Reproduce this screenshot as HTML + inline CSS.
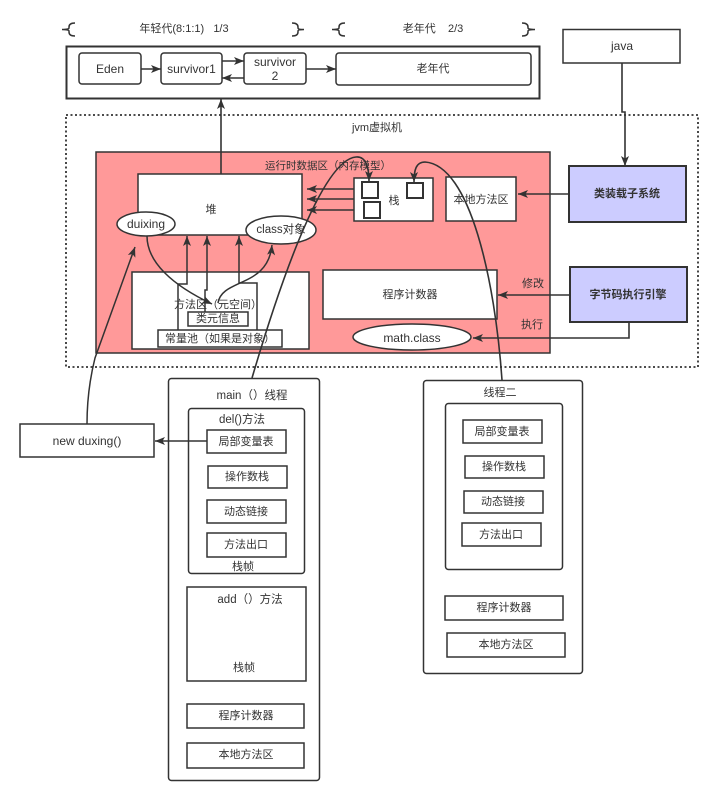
<!DOCTYPE html>
<html><head><meta charset="utf-8"><style>
html,body{margin:0;padding:0;background:#fff;}
svg{display:block;}
text{font-family:"Liberation Sans","Noto Sans CJK SC",sans-serif;fill:#333;text-anchor:middle;dominant-baseline:central;font-size:11px;}
.l{font-size:12px;}
.b{font-weight:bold;}
</style></head><body>
<svg width="719" height="800" viewBox="0 0 719 800" xmlns="http://www.w3.org/2000/svg">
<defs>
<marker id="a" viewBox="0 0 10 10" refX="10" refY="5" markerWidth="10" markerHeight="10" markerUnits="userSpaceOnUse" orient="auto">
<path d="M0,1 L10,5 L0,9 L2.5,5 Z" fill="#333"/>
</marker>
</defs>
<rect width="719" height="800" fill="#fff"/>

<!-- braces -->
<g fill="none" stroke="#333" stroke-width="1.5">
<path d="M75,23 Q69,23 69,27 V28 Q69,29.5 62,29.5 Q69,29.5 69,31 V32 Q69,36 75,36"/>
<path d="M292,23 Q298,23 298,27 V28 Q298,29.5 304,29.5 Q298,29.5 298,31 V32 Q298,36 292,36"/>
<path d="M345,23 Q339,23 339,27 V28 Q339,29.5 332,29.5 Q339,29.5 339,31 V32 Q339,36 345,36"/>
<path d="M522,23 Q528,23 528,27 V28 Q528,29.5 535,29.5 Q528,29.5 528,31 V32 Q528,36 522,36"/>
</g>
<text x="184" y="29">年轻代(8:1:1)&#160;&#160;&#160;1/3</text>
<text x="433" y="29">老年代&#160;&#160;&#160;&#160;2/3</text>

<!-- generation box -->
<rect x="66.5" y="46.5" width="473" height="52" fill="#fff" stroke="#333" stroke-width="2"/>
<g fill="#fff" stroke="#333" stroke-width="1.5">
<rect x="79" y="53" width="62" height="31" rx="3"/>
<rect x="161" y="53" width="61" height="31" rx="3"/>
<rect x="244" y="53" width="62" height="31" rx="3"/>
<rect x="336" y="53" width="195" height="32" rx="3"/>
</g>
<text class="l" x="110" y="69">Eden</text>
<text class="l" x="191.5" y="69">survivor1</text>
<text class="l" x="275" y="62">survivor</text>
<text class="l" x="275" y="76">2</text>
<text x="433" y="69">老年代</text>
<g stroke="#333" stroke-width="1.6" fill="none" marker-end="url(#a)">
<path d="M141,69 H161"/>
<path d="M222,61 H244"/>
<path d="M244,78 H222"/>
<path d="M306,69 H336"/>
</g>

<!-- java -->
<rect x="563" y="29.5" width="117" height="33.5" fill="#fff" stroke="#333" stroke-width="1.5"/>
<text class="l" x="622" y="46">java</text>
<path d="M622,63 V112 H625 V166" stroke="#333" stroke-width="1.6" fill="none" marker-end="url(#a)"/>

<!-- jvm dotted -->
<rect x="66" y="115" width="632" height="252" fill="none" stroke="#333" stroke-width="1.8" stroke-dasharray="2 2.5"/>
<text x="377" y="128">jvm虚拟机</text>

<!-- runtime area -->
<rect x="96" y="152" width="454" height="201" fill="#FF9999" stroke="#333" stroke-width="1.5"/>
<text x="328" y="166" style="font-size:10.5px">运行时数据区（内存模型）</text>

<!-- heap -->
<rect x="138" y="174" width="164" height="61" fill="#fff" stroke="#333" stroke-width="1.5"/>
<text x="211" y="210">堆</text>
<path d="M221,174 V99" stroke="#333" stroke-width="1.6" fill="none" marker-end="url(#a)"/>

<!-- method area -->
<rect x="132" y="272" width="177" height="77" fill="#fff" stroke="#333" stroke-width="1.5"/>
<g stroke="#333" stroke-width="1.5" fill="none" marker-end="url(#a)">
<path d="M178,330 V284 H187 V236"/>
<path d="M205,312 V290 H207 V236"/>
<path d="M257,330 V283 H239 V236"/>
</g>
<text x="218" y="305">方法区（元空间）</text>
<rect x="188" y="312" width="60" height="14" fill="#fff" stroke="#333" stroke-width="1.5"/>
<text x="218" y="319">类元信息</text>
<rect x="158" y="330" width="124" height="17" fill="#fff" stroke="#333" stroke-width="1.5"/>
<text x="220" y="339">常量池（如果是对象）</text>

<!-- ellipses -->
<ellipse cx="146" cy="224" rx="29" ry="12" fill="#fff" stroke="#333" stroke-width="1.5"/>
<text class="l" x="146" y="224">duixing</text>
<ellipse cx="281" cy="230" rx="35" ry="14" fill="#fff" stroke="#333" stroke-width="1.5"/>
<text x="281" y="230" style="font-size:11.5px">class对象</text>

<!-- curves inside -->
<g stroke="#333" stroke-width="1.5" fill="none" marker-end="url(#a)">
<path d="M147,236 C147,262 172,285 212,304"/>
<path d="M218,303 C222,278 268,288 272,245"/>
<path d="M87,424 C87,400 90,378 95,358 L135,247"/>
</g>

<!-- stack -->
<rect x="354" y="178" width="79" height="43" fill="#fff" stroke="#333" stroke-width="1.5"/>
<text x="394" y="201">栈</text>
<g fill="#fff" stroke="#333" stroke-width="2">
<rect x="362" y="182" width="16" height="16"/>
<rect x="364" y="202" width="16" height="16"/>
<rect x="407" y="183" width="16" height="15"/>
</g>
<g stroke="#333" stroke-width="1.5" fill="none" marker-end="url(#a)">
<path d="M354,189 H307"/>
<path d="M354,199 H307"/>
<path d="M354,210 H307"/>
</g>

<!-- local method area -->
<rect x="446" y="177" width="70" height="44" fill="#fff" stroke="#333" stroke-width="1.5"/>
<text x="481" y="200">本地方法区</text>

<!-- class loader -->
<rect x="569" y="166" width="117" height="56" fill="#CCCCFF" stroke="#333" stroke-width="2"/>
<text class="b" x="627" y="194">类装载子系统</text>
<path d="M569,194 H518" stroke="#333" stroke-width="1.6" fill="none" marker-end="url(#a)"/>

<!-- pc -->
<rect x="323" y="270" width="174" height="49" fill="#fff" stroke="#333" stroke-width="1.5"/>
<text x="410" y="295">程序计数器</text>

<!-- engine -->
<rect x="570" y="267" width="117" height="55" fill="#CCCCFF" stroke="#333" stroke-width="2"/>
<text class="b" x="628" y="295">字节码执行引擎</text>
<path d="M570,295 H498" stroke="#333" stroke-width="1.6" fill="none" marker-end="url(#a)"/>
<text x="533" y="284">修改</text>
<path d="M629,322 V338 H473" stroke="#333" stroke-width="1.6" fill="none" marker-end="url(#a)"/>
<text x="532" y="325">执行</text>

<!-- math.class -->
<ellipse cx="412" cy="337" rx="59" ry="13" fill="#fff" stroke="#333" stroke-width="1.5"/>
<text class="l" x="412" y="338">math.class</text>

<!-- long curves -->
<g stroke="#333" stroke-width="1.6" fill="none" marker-end="url(#a)">
<path d="M252,378 C275,300 320,160 356,157 C366,156 369,168 369,181"/>
<path d="M502,380 C495,280 470,165 425,162 C416,162 414,170 414,182"/>
</g>

<!-- new duxing -->
<rect x="20" y="424" width="134" height="33" fill="#fff" stroke="#333" stroke-width="1.5"/>
<text class="l" x="87" y="441">new duxing()</text>

<!-- main thread -->
<rect x="168.5" y="378.5" width="151" height="402" rx="3" fill="#fff" stroke="#333" stroke-width="1.5"/>
<text x="252" y="396" style="font-size:11.5px">main（）线程</text>
<rect x="188.5" y="408.5" width="116" height="165" rx="3" fill="#fff" stroke="#333" stroke-width="1.5"/>
<text x="242" y="420" style="font-size:11.5px">del()方法</text>
<g fill="#fff" stroke="#333" stroke-width="1.5">
<rect x="207" y="430" width="79" height="23"/>
<rect x="208" y="466" width="79" height="22"/>
<rect x="207" y="500" width="79" height="23"/>
<rect x="207" y="533" width="79" height="24"/>
</g>
<text x="246" y="442">局部变量表</text>
<text x="247" y="477">操作数栈</text>
<text x="246" y="512">动态链接</text>
<text x="246" y="545">方法出口</text>
<text x="243" y="567">栈帧</text>
<path d="M207,441 H155" stroke="#333" stroke-width="1.6" fill="none" marker-end="url(#a)"/>

<rect x="187" y="587" width="119" height="94" fill="#fff" stroke="#333" stroke-width="1.5"/>
<text x="250" y="600" style="font-size:11.5px">add（）方法</text>
<text x="244" y="668">栈帧</text>
<rect x="187" y="704" width="117" height="24" fill="#fff" stroke="#333" stroke-width="1.5"/>
<text x="246" y="716">程序计数器</text>
<rect x="187" y="743" width="117" height="25" fill="#fff" stroke="#333" stroke-width="1.5"/>
<text x="246" y="755">本地方法区</text>

<!-- thread 2 -->
<rect x="423.5" y="380.5" width="159" height="293" rx="3" fill="#fff" stroke="#333" stroke-width="1.5"/>
<text x="500" y="393">线程二</text>
<rect x="445.5" y="403.5" width="117" height="166" rx="3" fill="#fff" stroke="#333" stroke-width="1.5"/>
<g fill="#fff" stroke="#333" stroke-width="1.5">
<rect x="463" y="420" width="79" height="23"/>
<rect x="465" y="456" width="79" height="22"/>
<rect x="464" y="491" width="79" height="22"/>
<rect x="462" y="523" width="79" height="23"/>
<rect x="445" y="596" width="118" height="24"/>
<rect x="447" y="633" width="118" height="24"/>
</g>
<text x="502" y="432">局部变量表</text>
<text x="504" y="467">操作数栈</text>
<text x="503" y="502">动态链接</text>
<text x="501" y="535">方法出口</text>
<text x="504" y="608">程序计数器</text>
<text x="506" y="645">本地方法区</text>
</svg>
</body></html>
